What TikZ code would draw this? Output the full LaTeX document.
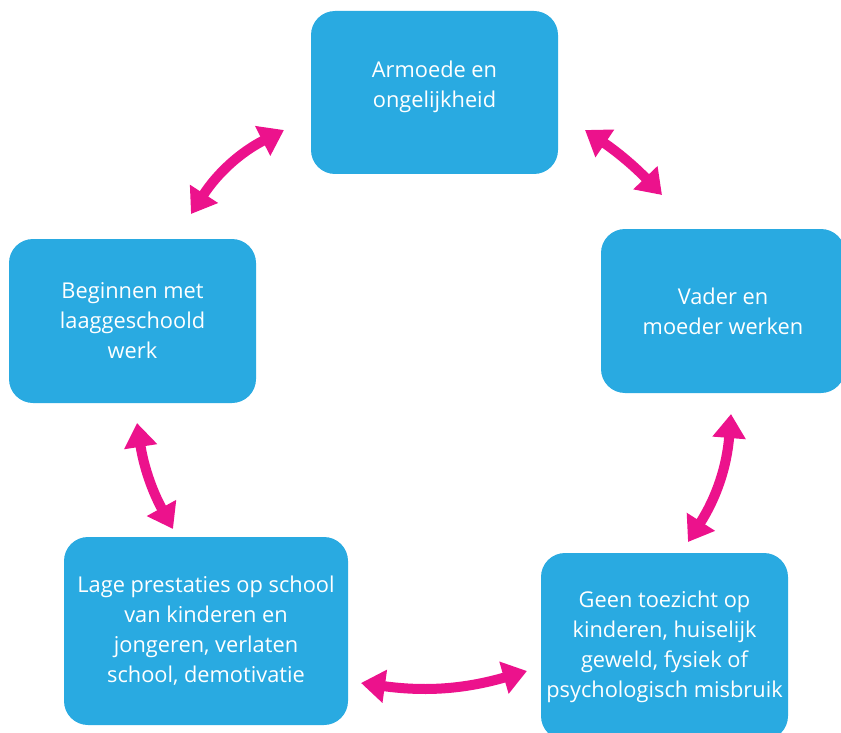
\documentclass[tikz,border=0pt]{standalone}
\usepackage{fontspec}
\setmainfont{Open Sans}
\usetikzlibrary{arrows.meta}
\definecolor{boxblue}{RGB}{41,170,225}
\definecolor{arrowpink}{RGB}{236,18,140}
\begin{document}
\begin{tikzpicture}[x=1pt,y=-1pt,
	cause/.style={rectangle,rounded corners=24pt,fill=boxblue,text=white,
		align=center,inner sep=0pt,font=\fontsize{21.8}{30}\selectfont,
		minimum width=247pt,minimum height=164pt},
	link/.style={draw=arrowpink,line width=10pt,
		{Triangle[width=32pt,length=24pt]}-{Triangle[width=32pt,length=24pt]}}]
\clip (0,0) rectangle (841,733);
% the five boxes of the cycle
\node[cause,minimum height=163pt] (armoede) at (434.5,92.5) {Armoede en\\ongelijkheid\\[-14pt]};
\node[cause,minimum width=244pt] (werken) at (723,311) {Vader en\\moeder werken};
\node[cause,minimum height=187pt] (toezicht) at (664.5,646.5) {Geen toezicht op\\kinderen, huiselijk\\geweld, fysiek of\\psychologisch misbruik};
\node[cause,minimum width=284pt,minimum height=188pt] (school) at (206,631) {Lage prestaties op school\\van kinderen en\\jongeren, verlaten\\school, demotivatie};
\node[cause] (werk) at (132.5,321) {Beginnen met\\laaggeschoold\\werk};
% arrow ends
\coordinate (a1s) at (191,214);
\coordinate (a1e) at (284,130);
\coordinate (a2s) at (585,130);
\coordinate (a2e) at (662,195);
\coordinate (a3s) at (731,414);
\coordinate (a3e) at (688,542);
\coordinate (a4s) at (527,671);
\coordinate (a4e) at (361,683);
\coordinate (a5s) at (173,529);
\coordinate (a5e) at (137,423);
% double arrows
\draw[link] (a1s) to[bend left=15] (a1e);
\draw[link] (a2s) to[bend left=6] (a2e);
\draw[link] (a3s) to[bend left=14] (a3e);
\draw[link] (a4s) to[bend left=12] (a4e);
\draw[link] (a5s) to[bend left=10] (a5e);
\end{tikzpicture}
\end{document}
